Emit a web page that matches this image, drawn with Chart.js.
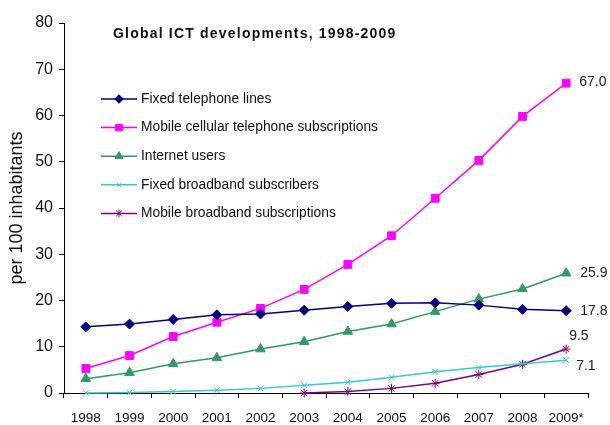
<!doctype html>
<html lang="en">
<head>
<meta charset="utf-8">
<title>Global ICT developments, 1998-2009</title>
<script src="https://cdn.jsdelivr.net/npm/chart.js"></script>
<style>
body{margin:0;background:#fff;}
</style>
</head>
<body>
<canvas id="myChart" width="610" height="425"></canvas>
<script>
// data (per 100 inhabitants)
const years = ['1998','1999','2000','2001','2002','2003','2004','2005','2006','2007','2008','2009*'];
const fixedTel   = [14.3, 14.9, 15.9, 16.9, 17.1, 17.9, 18.7, 19.4, 19.5, 19.0, 18.1, 17.8];
const mobileCell = [5.3, 8.1, 12.2, 15.3, 18.3, 22.4, 27.8, 34.0, 42.1, 50.3, 59.8, 67.0];
const internet   = [3.1, 4.4, 6.3, 7.6, 9.5, 11.1, 13.3, 14.9, 17.6, 20.3, 22.5, 25.9];
const fixedBB    = [0.0, 0.1, 0.3, 0.6, 1.0, 1.7, 2.3, 3.4, 4.6, 5.5, 6.3, 7.1];
const mobileBB   = [null, null, null, null, null, 0.0, 0.3, 1.0, 2.1, 4.0, 6.2, 9.5];
const seriesNames = ['Fixed telephone lines', 'Mobile cellular telephone subscriptions', 'Internet users', 'Fixed broadband subscribers', 'Mobile broadband subscriptions'];
const endLabels = ['17.8', '67.0', '25.9', '7.1', '9.5'];
const chartTitle = 'Global ICT developments, 1998-2009';

const FONT = '"Liberation Sans", Arial, sans-serif';

function series(i, data, color, style, r) {
	return {
		label: seriesNames[i],
		data: data,
		borderColor: color,
		backgroundColor: color,
		borderWidth: 1.5,
		pointStyle: style,
		pointRadius: r,
		pointBorderWidth: 1,
		pointHoverRadius: r,
		tension: 0,
		clip: false,
		spanGaps: false
	};
}

// label offsets relative to the last point of each series
const labelOffsets = [[14, 0], [13, -1], [14, 0], [10, 6], [3, -13]];

const overlay = {
	id: 'overlay',
	afterDatasetsDraw(chart) {
		const ctx = chart.ctx;
		ctx.save();
		// title
		ctx.font = 'bold 14px ' + FONT;
		ctx.fillStyle = '#111';
		ctx.textBaseline = 'middle';
		ctx.textAlign = 'left';
		if ('letterSpacing' in ctx) ctx.letterSpacing = '1.2px';
		ctx.fillText(chartTitle, 113, 34);
		if ('letterSpacing' in ctx) ctx.letterSpacing = '0px';
		// legend
		chart.data.datasets.forEach(function(ds, i) {
			const y = 99 + i * 28.6;
			ctx.strokeStyle = ds.borderColor;
			ctx.fillStyle = ds.backgroundColor;
			ctx.lineWidth = 1.5;
			ctx.beginPath();
			ctx.moveTo(101, y);
			ctx.lineTo(137, y);
			ctx.stroke();
			ctx.lineWidth = 1;
			Chart.helpers.drawPoint(ctx, {pointStyle: ds.pointStyle, radius: ds.pointRadius * 0.85, rotation: 0, borderWidth: 1}, 119, y);
			ctx.fillStyle = '#111';
			ctx.font = '13.8px ' + FONT;
			ctx.fillText(ds.label, 141, y);
		});
		// end value labels
		ctx.font = '14px ' + FONT;
		ctx.fillStyle = '#222';
		chart.data.datasets.forEach(function(ds, i) {
			const meta = chart.getDatasetMeta(i);
			const pt = meta.data[meta.data.length - 1];
			ctx.fillText(endLabels[i], pt.x + labelOffsets[i][0], pt.y + labelOffsets[i][1]);
		});
		ctx.restore();
	}
};

const config = {
	type: 'line',
	data: {
		labels: years,
		datasets: [
			series(0, fixedTel, '#000080', 'rectRot', 5),
			series(1, mobileCell, '#ff00ff', 'rect', 5.5),
			series(2, internet, '#339966', 'triangle', 5.5),
			series(3, fixedBB, '#33cccc', 'crossRot', 4),
			series(4, mobileBB, '#800080', 'star', 4.5)
		]
	},
	options: {
		responsive: false,
		animation: false,
		layout: {padding: {left: 0, right: 22, top: 23, bottom: 0}},
		plugins: {
			legend: {display: false},
			tooltip: {enabled: false},
			title: {display: false}
		},
		scales: {
			x: {
				type: 'category',
				offset: true,
				grid: {display: true, drawOnChartArea: false, tickLength: 5, color: '#000', offset: true},
				border: {color: '#000', width: 1},
				ticks: {color: '#111', font: {family: FONT, size: 13.5}, padding: 12, maxRotation: 0, autoSkip: false},
				afterFit: function(scale) { scale.height = 32; }
			},
			y: {
				min: 0,
				max: 80,
				grid: {display: true, drawOnChartArea: false, tickLength: 5, color: '#000'},
				border: {color: '#000', width: 1},
				ticks: {stepSize: 10, color: '#111', font: {family: FONT, size: 16}, padding: 6},
				title: {display: true, text: 'per 100 inhabitants', color: '#111', font: {family: FONT, size: 18}, padding: {top: 6, bottom: 0}},
				afterFit: function(scale) { scale.width = 64; }
			}
		}
	},
	plugins: [overlay]
};

let myChart = new Chart(document.getElementById('myChart'), config);
</script>
</body>
</html>
